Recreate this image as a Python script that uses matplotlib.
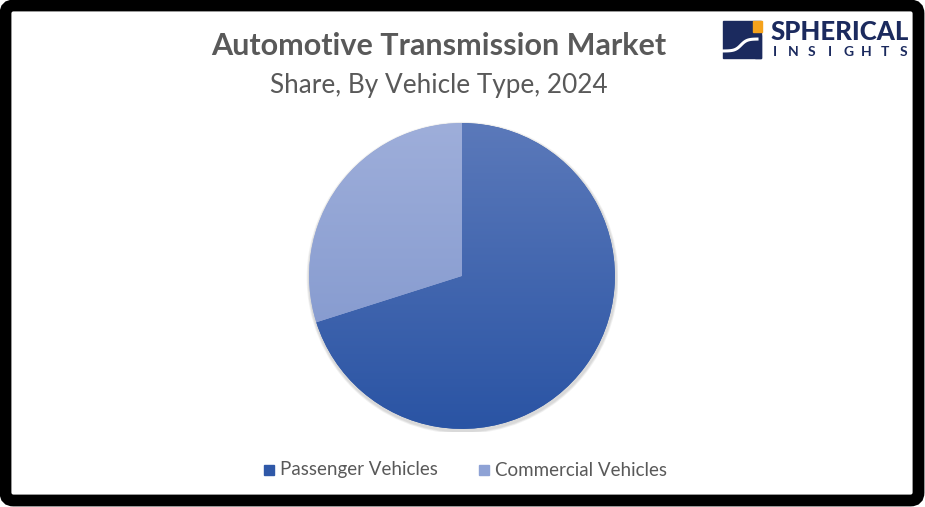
import numpy as np
import matplotlib.pyplot as plt
from matplotlib.patches import FancyBboxPatch, Rectangle, Circle
from matplotlib.colors import LinearSegmentedColormap

# Chart data
categories = ["Passenger Vehicles", "Commercial Vehicles"]
shares = [70.1, 29.9]
# (top colour, bottom colour) of each slice gradient
grad_colors = [("#5b79ba", "#2a54a4"), ("#9eaeda", "#7c93cb")]
legend_colors = ["#2f58a8", "#8ea2d5"]

plt.rcParams['font.family'] = ['Lato', 'DejaVu Sans']

fig = plt.figure(figsize=(9.25, 5.07), dpi=100)
fig.patch.set_facecolor("white")

# overlay axes in pixel coordinates for frame, titles, logo, legend
bg = fig.add_axes([0, 0, 1, 1])
bg.set_xlim(0, 925)
bg.set_ylim(507, 0)
bg.axis("off")

# black rounded frame
frame = FancyBboxPatch((5.5, 5.5), 913, 495, boxstyle="round,pad=0,rounding_size=8",
                       fill=False, edgecolor="black", linewidth=8.5)
bg.add_patch(frame)

# titles
bg.text(439, 46, "Automotive Transmission Market", ha="center", va="center",
        fontsize=22, fontweight="bold", color="#595959")
bg.text(439, 85, "Share, By Vehicle Type, 2024", ha="center", va="center",
        fontsize=18.8, color="#595959")

# logo
navy = "#1b2a5e"
bg.add_patch(Rectangle((723, 21), 38, 37, color=navy))
wave_x = np.linspace(723, 757, 40)
wave_y = 45 - 6 * np.tanh((wave_x - 741) / 6)
bg.plot(wave_x, wave_y, color="white", lw=2.2)
bg.add_patch(Rectangle((753, 21), 9, 11, color="#f5a21b"))
bg.add_patch(Rectangle((755, 35), 6, 23, color=navy))
bg.text(770, 32, "SPHERICAL", ha="left", va="center", fontsize=18.5,
        fontweight="black", color=navy)
for k, ch in enumerate("INSIGHTS"):
    bg.text(775 + k * 18.3, 52, ch, ha="center", va="center", fontsize=10,
            fontweight="bold", color=navy)

# pie axes: centre (462, 276), radius 153 px
ax = fig.add_axes([306 / 925, (507 - 432) / 507, 312 / 925, 312 / 507])

# faint soft shadow under the pie
for r, a in [(1.0, 0.05), (0.995, 0.05), (0.99, 0.05)]:
    ax.add_patch(Circle((0.004, -0.012), r, color="black", alpha=a, lw=0, zorder=1))

wedges, _ = ax.pie(shares, startangle=90, counterclock=False, radius=0.98,
                   colors=legend_colors, wedgeprops=dict(linewidth=0, zorder=2))
ax.set_xlim(-1, 1)
ax.set_ylim(-1, 1)
ax.set_aspect("equal")
ax.axis("off")

grad = np.linspace(0, 1, 256).reshape(-1, 1)
for w, (top, bottom) in zip(wedges, grad_colors):
    cmap = LinearSegmentedColormap.from_list("g", [top, bottom])
    im = ax.imshow(grad, cmap=cmap, extent=[-0.98, 0.98, -0.98, 0.98], origin="upper",
                   aspect="auto", zorder=3)
    im.set_clip_path(w)

# legend
for i, (lab, col) in enumerate(zip(categories, legend_colors)):
    x0 = [264, 479][i]
    bg.add_patch(Rectangle((x0, 465), 10, 10, color=col))
    bg.text(x0 + 16, 470, lab, ha="left", va="center", fontsize=13.5, color="#595959")

fig.savefig("out.png", dpi=100)
